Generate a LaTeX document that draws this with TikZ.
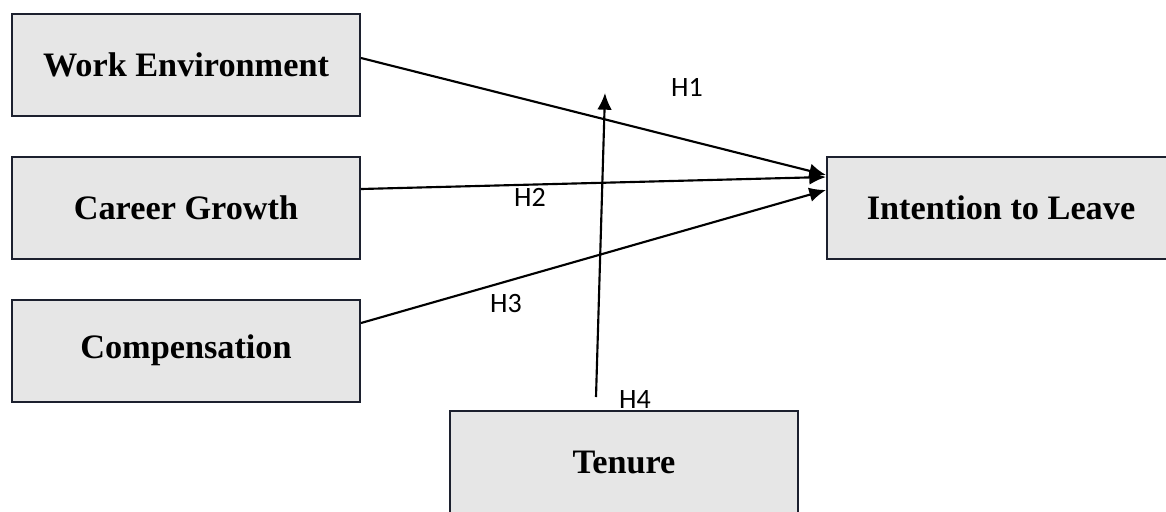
\documentclass[tikz,border=0pt]{standalone}
\usepackage{fontspec}
\setmainfont{Liberation Serif}
\newfontfamily\hfont{Carlito}
\usetikzlibrary{calc,arrows.meta}

\definecolor{boxline}{RGB}{28,32,46}
\definecolor{boxfill}{RGB}{230,230,230}

\begin{document}
\begin{tikzpicture}[x=0.75pt,y=-0.75pt]
\tikzstyle{every node}=[font=\fontsize{25.7}{30}\selectfont\bfseries]
\tikzstyle{varbox}=[draw=boxline,line width=1.5pt,fill=boxfill,minimum width=261pt,minimum height=76.5pt,inner sep=0pt]
\tikzstyle{hyp}=[font=\hfont\fontsize{21}{24}\selectfont,inner sep=0pt]
\tikzstyle{link}=[line width=1.6pt,-{Latex[length=12.5pt,width=11pt]}]
\clip (0,0) rectangle (1166,511);

%boxes
\node [varbox] (we) at (186,65) {Work Environment};
\node [varbox] (cg) at (186,207.5) {Career Growth};
\node [varbox] (comp) at (186,350.5) {Compensation};
\node [varbox] (il) at (1001,208) {Intention to Leave};
\node [hyp] (h4) at (635,400) {H4};
\node [varbox] (ten) at (624,462) {Tenure};
\coordinate (mod) at (605,93);

%arrows
\draw [link] ($(we.east)+(0,-7)$) -- ($(il.west)+(0,-33)$);
\draw [link] ($(cg.east)+(0,-18.5)$) -- ($(il.west)+(0,-31)$);
\draw [link] ($(comp.east)+(0,-27.5)$) -- ($(il.west)+(0,-18)$);
\draw [link] ($(ten.north)+(-28,-13)$) -- (mod);

%labels
\node [hyp] (h1) at (687,87) {H1};
\node [hyp] (h2) at (530,197) {H2};
\node [hyp] (h3) at (506,304) {H3};
\end{tikzpicture}
\end{document}
